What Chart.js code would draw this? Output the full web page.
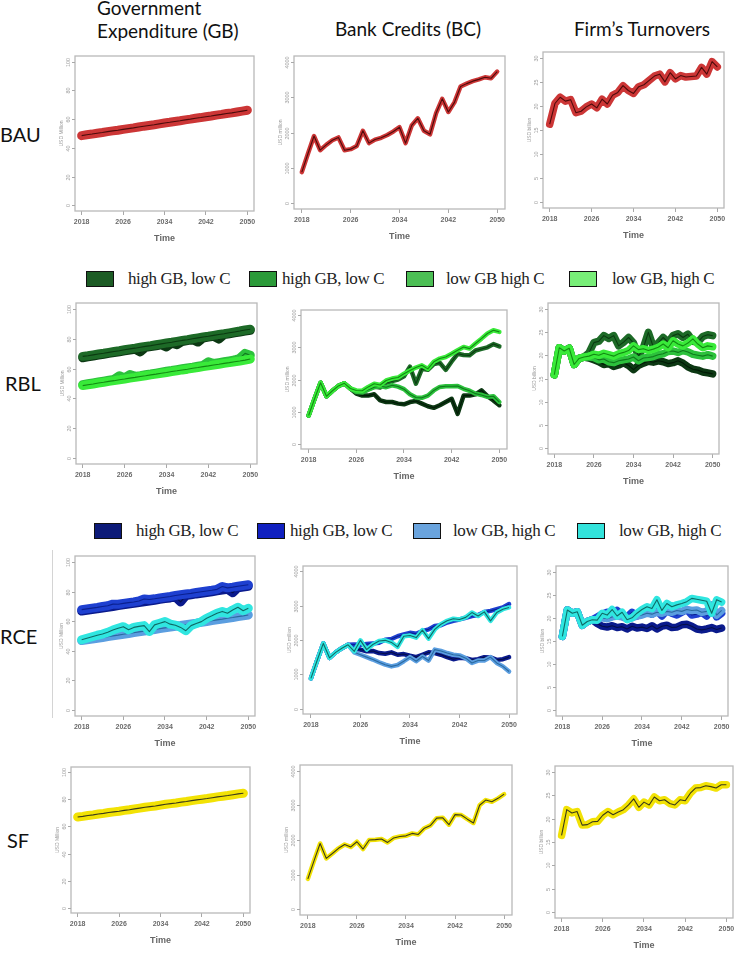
<!DOCTYPE html>
<html>
<head>
<meta charset="utf-8">
<script src="https://cdn.jsdelivr.net/npm/chart.js@4.4.1/dist/chart.umd.min.js"></script>
<style>
  body { margin: 0; background: #fff; width: 737px; height: 958px; position: relative; overflow: hidden; font-family: Lato, sans-serif; }
  .panel { position: absolute; }
  .txt { position: absolute; white-space: nowrap; color: #111; line-height: 1; }
  .colTitle { font-size: 19px; }
  .rowLabel { font-size: 20px; }
  .lgBox { position: absolute; width: 26px; height: 14px; border: 1.5px solid #111; }
  .lgTxt { position: absolute; font-family: "Liberation Serif", serif; font-size: 17px; line-height: 1; white-space: nowrap; color: #222; letter-spacing: -0.4px; }
</style>
</head>
<body>
<script>
// ---- data ----
const years = [2018, 2019, 2020, 2021, 2022, 2023, 2024, 2025, 2026, 2027, 2028, 2029, 2030, 2031, 2032, 2033, 2034, 2035, 2036, 2037, 2038, 2039, 2040, 2041, 2042, 2043, 2044, 2045, 2046, 2047, 2048, 2049, 2050];
const xTicks = [2018, 2026, 2034, 2042, 2050];
const gbTicks = [0, 20, 40, 60, 80, 100];
const bcTicks = [0, 1000, 2000, 3000, 4000];
const ftTicks = [0, 5, 10, 15, 20, 25, 30];

// BAU
const bauGb = [48.5, 49.1, 49.6, 50.2, 50.7, 51.3, 51.8, 52.3, 52.9, 53.4, 53.9, 54.5, 55.1, 55.6, 56.1, 56.7, 57.3, 57.8, 58.4, 58.9, 59.5, 60.0, 60.6, 61.1, 61.7, 62.2, 62.8, 63.3, 63.9, 64.4, 65.0, 65.6, 66.2];
const bauBc = [880, 1400, 1900, 1500, 1650, 1780, 1860, 1500, 1530, 1620, 2050, 1700, 1800, 1850, 1930, 2030, 2150, 1700, 2200, 2400, 2050, 1950, 2550, 2950, 2580, 2850, 3300, 3380, 3450, 3500, 3560, 3530, 3720];
const bauFt = [16.2, 20.5, 21.8, 21.0, 21.3, 18.6, 18.9, 19.8, 20.4, 19.6, 21.4, 20.4, 22.2, 22.8, 24.2, 23.2, 22.6, 24.0, 24.4, 25.3, 26.2, 26.6, 25.0, 26.9, 25.6, 26.3, 26.0, 26.1, 26.2, 28.0, 26.6, 29.2, 28.1];

// RBL
const rblGb1 = [67.3, 67.9, 68.4, 69.0, 69.6, 70.2, 70.7, 71.3, 71.9, 72.5, 73.0, 71.2, 74.2, 74.8, 75.3, 75.9, 74.5, 77.1, 76.0, 78.2, 78.8, 79.4, 77.8, 80.5, 81.1, 81.7, 79.8, 82.8, 83.4, 84.0, 84.5, 85.1, 85.7];
const rblGb2 = [68.2, 68.6, 69.2, 69.8, 70.3, 70.9, 71.5, 72.0, 72.6, 73.2, 73.7, 74.3, 74.9, 75.4, 76.0, 76.6, 77.2, 77.7, 78.3, 78.9, 79.4, 80.0, 80.6, 81.2, 81.7, 82.3, 82.9, 83.4, 84.0, 84.6, 85.2, 85.9, 86.4];
const rblGb3 = [49.2, 49.8, 50.4, 51.0, 51.6, 52.2, 52.8, 55.2, 53.8, 56.0, 54.8, 55.3, 55.9, 56.4, 57.0, 57.6, 58.2, 58.7, 59.3, 59.9, 60.5, 61.0, 61.6, 62.2, 64.5, 63.4, 64.0, 64.6, 65.2, 65.8, 67.0, 70.2, 69.0];
const rblGb4 = [48.6, 49.2, 49.7, 50.3, 50.8, 51.4, 51.9, 52.5, 53.0, 53.6, 54.1, 54.7, 55.2, 55.8, 56.3, 56.9, 57.4, 58.0, 58.5, 59.1, 59.6, 60.2, 60.7, 61.3, 61.8, 62.4, 62.9, 63.5, 64.0, 64.6, 65.1, 65.7, 66.4];

const rblBcStart = [880, 1400, 1900, 1480, 1650, 1800, 1880, 1720];
const rblBc1 = rblBcStart.concat([1560, 1500, 1500, 1540, 1350, 1300, 1300, 1250, 1230, 1300, 1330, 1250, 1170, 1120, 1200, 1300, 1400, 930, 1500, 1500, 1540, 1660, 1480, 1350, 1200]);
const rblBc2 = rblBcStart.concat([1600, 1600, 1700, 1780, 1750, 1900, 1950, 2000, 2100, 2400, 1870, 2330, 2300, 2480, 2520, 2300, 2560, 2800, 2760, 2750, 2900, 2950, 3000, 3100, 3030]);
const rblBc3 = rblBcStart.concat([1620, 1600, 1680, 1760, 1800, 1760, 1820, 1780, 1700, 1540, 1440, 1430, 1500, 1660, 1770, 1790, 1790, 1800, 1710, 1650, 1560, 1520, 1460, 1480, 1300]);
const rblBc4 = rblBcStart.concat([1660, 1650, 1770, 1870, 1830, 1970, 2030, 2060, 2180, 2280, 2370, 2440, 2330, 2550, 2650, 2700, 2800, 2910, 3010, 2960, 3120, 3270, 3430, 3530, 3480]);

const rblFtStart = [15.8, 21.6, 20.9, 21.5, 18.0, 19.3, 19.6];
const rblFt1 = rblFtStart.concat([19.4, 19.0, 18.6, 18.0, 18.2, 17.6, 17.9, 18.4, 17.8, 16.9, 17.8, 18.3, 18.7, 18.5, 18.8, 18.6, 18.2, 18.4, 18.8, 18.3, 17.5, 17.0, 16.8, 16.4, 16.2, 16.0]);
const rblFt2 = rblFtStart.concat([20.5, 22.7, 23.0, 24.2, 23.6, 24.2, 22.0, 22.8, 23.8, 22.6, 19.8, 21.6, 24.9, 21.8, 22.6, 23.8, 22.8, 24.2, 24.6, 23.8, 24.5, 23.0, 22.8, 24.0, 24.4, 24.2]);
const rblFt3 = rblFtStart.concat([19.6, 19.5, 19.0, 19.2, 18.6, 18.4, 18.8, 19.0, 19.2, 19.6, 18.8, 19.4, 19.5, 19.7, 20.1, 20.3, 20.8, 20.9, 20.6, 21.0, 20.7, 20.2, 20.0, 19.8, 20.1, 19.8]);
const rblFt4 = rblFtStart.concat([19.8, 20.2, 20.0, 20.4, 20.1, 19.8, 20.3, 20.6, 21.0, 22.0, 21.2, 21.4, 21.0, 21.3, 21.7, 22.4, 21.6, 23.1, 22.4, 22.0, 22.6, 23.5, 22.4, 21.6, 22.0, 21.8]);

// RCE
const rceGb1 = [66.8, 67.3, 67.8, 68.3, 68.9, 69.4, 69.9, 70.5, 71.0, 71.5, 72.0, 72.6, 73.1, 73.6, 74.1, 74.7, 75.2, 75.7, 76.3, 73.0, 77.3, 77.8, 78.4, 78.9, 79.4, 79.9, 80.5, 81.0, 81.5, 79.2, 82.6, 83.1, 83.6];
const rceGb2 = [67.8, 68.3, 68.8, 69.3, 69.9, 70.4, 71.5, 71.4, 72.0, 72.5, 73.0, 73.6, 75.0, 74.6, 75.1, 75.7, 76.2, 76.7, 77.3, 77.8, 78.3, 78.8, 79.4, 79.9, 80.4, 80.9, 81.5, 83.4, 82.5, 83.0, 83.6, 84.1, 84.6];
const rceGb3 = [46.9, 47.4, 47.9, 48.5, 49.0, 49.6, 50.1, 50.6, 51.2, 51.7, 52.3, 52.8, 53.3, 53.9, 54.4, 55.0, 55.5, 56.0, 56.6, 57.1, 57.7, 58.2, 58.7, 59.3, 59.8, 60.4, 60.9, 61.4, 62.0, 62.5, 63.1, 63.6, 64.2];
const rceGb4 = [47.5, 48.5, 49.5, 50.5, 51.3, 52.5, 54.0, 55.2, 56.3, 54.2, 55.8, 56.5, 57.0, 53.0, 57.5, 58.6, 59.7, 58.0, 57.3, 55.8, 53.6, 57.0, 58.4, 59.7, 62.0, 63.6, 65.4, 66.6, 65.4, 67.6, 69.4, 67.0, 68.7];

const rceBcStart = [880, 1400, 1900, 1480, 1640, 1760, 1860];
const rceBc1 = rceBcStart.concat([1740, 1720, 1670, 1680, 1620, 1600, 1640, 1570, 1590, 1540, 1500, 1570, 1640, 1620, 1570, 1500, 1440, 1480, 1470, 1420, 1440, 1500, 1490, 1420, 1440, 1500]);
const rceBc2 = rceBcStart.concat([1870, 1860, 1880, 1900, 1920, 2010, 2030, 2110, 2160, 2210, 2180, 2260, 2310, 2410, 2430, 2510, 2560, 2600, 2650, 2700, 2730, 2820, 2850, 2900, 2950, 3050]);
const rceBc3 = rceBcStart.concat([1640, 1570, 1500, 1430, 1350, 1280, 1230, 1270, 1380, 1500, 1380, 1520, 1400, 1720, 1680, 1620, 1570, 1550, 1470, 1330, 1400, 1400, 1500, 1330, 1230, 1080]);
const rceBc4 = rceBcStart.concat([1670, 1990, 1720, 1870, 1970, 1990, 1930, 1800, 2110, 2130, 2070, 2290, 2040, 2310, 2460, 2560, 2620, 2600, 2660, 2800, 2700, 2820, 2560, 2800, 2900, 2950]);

const rceFtStart = [16.0, 21.7, 21.0, 21.3, 18.4, 19.2, 19.6];
const rceFt1 = rceFtStart.concat([18.8, 18.2, 18.0, 18.3, 17.9, 18.1, 17.6, 18.2, 17.8, 18.0, 17.7, 18.3, 17.6, 18.2, 18.4, 17.9, 18.0, 18.5, 18.6, 18.2, 17.6, 17.4, 17.6, 17.9, 17.5, 17.8]);
const rceFt2 = rceFtStart.concat([20.2, 20.8, 21.2, 20.4, 21.6, 20.6, 20.2, 21.2, 20.4, 21.0, 22.2, 20.8, 21.6, 20.4, 21.6, 21.0, 20.6, 21.2, 21.8, 20.6, 20.8, 21.2, 20.4, 22.6, 20.2, 21.0]);
const rceFt3 = rceFtStart.concat([19.6, 20.0, 19.8, 20.2, 20.4, 20.2, 19.8, 20.0, 20.4, 20.6, 21.0, 20.8, 21.2, 21.0, 21.4, 21.2, 21.6, 21.4, 21.8, 21.6, 21.7, 21.2, 21.4, 22.8, 20.6, 21.6]);
const rceFt4 = rceFtStart.concat([19.5, 21.0, 20.6, 21.8, 20.4, 21.2, 19.6, 20.0, 21.0, 21.8, 22.4, 22.0, 23.9, 21.6, 23.1, 22.4, 22.8, 23.1, 23.5, 24.2, 24.0, 23.8, 23.6, 21.0, 23.9, 23.4]);

// SF
const sfGb = [67.0, 67.5, 68.1, 68.6, 69.2, 69.7, 70.3, 70.8, 71.3, 71.9, 72.4, 73.0, 73.6, 74.2, 74.7, 75.2, 75.8, 76.4, 76.9, 77.4, 78.0, 78.5, 79.1, 79.7, 80.2, 80.7, 81.3, 81.9, 82.4, 82.9, 83.5, 84.1, 84.6];
const sfBc = [880, 1400, 1900, 1470, 1610, 1760, 1870, 1800, 1950, 1740, 2000, 2010, 2030, 1930, 2060, 2100, 2120, 2190, 2160, 2340, 2420, 2630, 2640, 2440, 2730, 2720, 2600, 2490, 3000, 3150, 3100, 3200, 3320];
const sfFt = [16.4, 21.9, 21.2, 21.5, 18.6, 18.7, 19.3, 19.4, 20.7, 21.5, 20.8, 21.4, 21.9, 22.9, 24.2, 22.4, 23.5, 22.9, 24.6, 23.8, 24.0, 23.2, 22.9, 24.0, 23.8, 25.4, 26.5, 26.6, 27.0, 26.8, 26.5, 27.2, 27.2];

const rblLegend = ['high GB, low C', 'high GB, low C', 'low GB high C', 'low GB, high C'];
const rceLegend = ['high GB, low C', 'high GB, low C', 'low GB, high C', 'low GB, high C'];

// ---- styles ----
const palettes = {
  bau: { band: ['#cc3636'], line: ['#4d0b0b'] },
  rbl: { band: ['#0c3813', '#1d6a27', '#2cc13c', '#39ea39'], line: ['#021a06', '#0a3a10', '#0f7a1c', '#128a12'] },
  rce: { band: ['#0a1a8c', '#1e40d0', '#5b9ee0', '#30e6e0'], line: ['#050f4a', '#0a2090', '#2a6aa0', '#0f6a66'] },
  sf: { band: ['#f2e205'], line: ['#3a3a1a'] }
};
const legendColors = {
  rbl: ['#1d5c25', '#2b9a39', '#4cbf55', '#78ee78'],
  rce: ['#0c1a78', '#1020c0', '#6aa4de', '#33e3dc']
};
const kinds = {
  gb: { min: -4, max: 104, ticks: gbTicks, title: 'USD Million', band: 9 },
  bc: { min: -160, max: 4160, ticks: bcTicks, title: 'USD million', band: 4.5 },
  ft: { min: -1.2, max: 31.2, ticks: ftTicks, title: 'USD billion', band: 7.5 }
};

const panels = [
  { box: [75, 56, 179, 155], kind: 'gb', pal: 'bau', series: [bauGb] },
  { box: [294, 56, 211, 153], kind: 'bc', pal: 'bau', series: [bauBc] },
  { box: [543, 52, 181, 156], kind: 'ft', pal: 'bau', series: [bauFt] },
  { box: [76, 303, 181, 161], kind: 'gb', pal: 'rbl', series: [rblGb1, rblGb2, rblGb3, rblGb4] },
  { box: [301, 310, 206, 139], kind: 'bc', pal: 'rbl', series: [rblBc1, rblBc2, rblBc3, rblBc4] },
  { box: [548, 303, 171, 151], kind: 'ft', pal: 'rbl', series: [rblFt1, rblFt2, rblFt3, rblFt4] },
  { box: [75, 556, 180, 160], kind: 'gb', pal: 'rce', series: [rceGb1, rceGb2, rceGb3, rceGb4] },
  { box: [303, 566, 214, 148], kind: 'bc', pal: 'rce', series: [rceBc1, rceBc2, rceBc3, rceBc4] },
  { box: [556, 566, 172, 150], kind: 'ft', pal: 'rce', series: [rceFt1, rceFt2, rceFt3, rceFt4] },
  { box: [71, 767, 179, 146], kind: 'gb', pal: 'sf', series: [sfGb] },
  { box: [300, 765, 212, 150], kind: 'bc', pal: 'sf', series: [sfBc] },
  { box: [555, 766, 178, 152], kind: 'ft', pal: 'sf', series: [sfFt] }
];

const AXIS_W = 16, AXIS_H = 36, PAD_T = 6, PAD_R = 6;

function addText(text, cls, left, top, extra) {
  const d = document.createElement('div');
  d.className = 'txt ' + cls;
  d.textContent = text;
  d.style.left = left + 'px';
  d.style.top = top + 'px';
  if (extra) Object.assign(d.style, extra);
  document.body.appendChild(d);
  return d;
}

function makePanel(p) {
  const k = kinds[p.kind];
  const pal = palettes[p.pal];
  const [bx, by, bw, bh] = p.box;

  const div = document.createElement('div');
  div.className = 'panel';
  div.style.left = (bx - AXIS_W) + 'px';
  div.style.top = (by - PAD_T) + 'px';
  div.style.width = (bw + AXIS_W + PAD_R) + 'px';
  div.style.height = (bh + PAD_T + AXIS_H) + 'px';
  const canvas = document.createElement('canvas');
  div.appendChild(canvas);
  document.body.appendChild(div);

  // paint order: band + centre line per series, later series on top
  const painted = [];
  p.series.forEach((vals, i) => {
    const pts = years.map((yr, j) => ({ x: yr, y: vals[j] }));
    painted.push({ data: pts, borderColor: pal.band[i], borderWidth: k.band, borderJoinStyle: 'round', borderCapStyle: 'round' });
    painted.push({ data: pts, borderColor: pal.line[i], borderWidth: 1.1, borderJoinStyle: 'round' });
  });
  // chart.js paints dataset 0 last, so reverse
  const datasets = painted.reverse().map(d => Object.assign(d, { pointRadius: 0, tension: 0, fill: false }));

  // R-like box, y tick marks and rotated y labels
  const rStyle = {
    id: 'rStyle',
    afterDraw(chart) {
      const { ctx, chartArea: a } = chart;
      const y = chart.scales.y;
      ctx.save();
      ctx.strokeStyle = '#b9b9b9';
      ctx.lineWidth = 1.3;
      ctx.strokeRect(a.left, a.top, a.right - a.left, a.bottom - a.top);
      ctx.strokeStyle = '#a8a8a8';
      ctx.lineWidth = 1;
      ctx.fillStyle = '#9c9c9c';
      ctx.font = '5.5px "Liberation Sans"';
      ctx.textAlign = 'center';
      ctx.textBaseline = 'middle';
      k.ticks.forEach(v => {
        const py = Math.round(y.getPixelForValue(v)) + 0.5;
        ctx.beginPath();
        ctx.moveTo(a.left - 3, py);
        ctx.lineTo(a.left, py);
        ctx.stroke();
        ctx.save();
        ctx.translate(a.left - 7, py);
        ctx.rotate(-Math.PI / 2);
        ctx.fillText(String(v), 0, 0);
        ctx.restore();
      });
      ctx.restore();
    }
  };

  new Chart(canvas.getContext('2d'), {
    type: 'line',
    data: { datasets },
    plugins: [rStyle],
    options: {
      responsive: true,
      maintainAspectRatio: false,
      animation: false,
      events: [],
      layout: { padding: { top: PAD_T, right: PAD_R, left: 0, bottom: 0 } },
      plugins: { legend: { display: false }, tooltip: { enabled: false } },
      scales: {
        x: {
          type: 'linear',
          min: 2016.72,
          max: 2051.28,
          afterBuildTicks: s => { s.ticks = xTicks.map(v => ({ value: v })); },
          afterFit: s => { s.height = AXIS_H; },
          grid: { drawOnChartArea: false, drawTicks: true, tickLength: 4, color: '#a8a8a8' },
          border: { display: false },
          ticks: {
            autoSkip: false, maxRotation: 0, padding: 3, color: '#6a6a6a',
            font: { family: 'Liberation Sans', size: 7, weight: 'bold' },
            callback: v => String(v)
          },
          title: { display: true, text: 'Time', color: '#666', padding: { top: 0, bottom: 3 }, font: { family: 'Liberation Sans', size: 9, weight: 'bold' } }
        },
        y: {
          type: 'linear',
          min: k.min,
          max: k.max,
          afterBuildTicks: s => { s.ticks = k.ticks.map(v => ({ value: v })); },
          afterFit: s => { s.width = AXIS_W; },
          grid: { display: false },
          border: { display: false },
          ticks: { display: false },
          title: { display: true, text: k.title, color: '#9a9a9a', padding: 0, font: { family: 'Liberation Sans', size: 5 } }
        }
      }
    }
  });
}

// headings and row labels
addText('Government', 'colTitle', 97, -2);
addText('Expenditure (GB)', 'colTitle', 97, 21);
addText('Bank Credits (BC)', 'colTitle', 408, 19, { transform: 'translateX(-50%)' });
addText('Firm\u2019s Turnovers', 'colTitle', 642, 19, { transform: 'translateX(-50%)' });
addText('BAU', 'rowLabel', 0, 124);
addText('RBL', 'rowLabel', 5, 373);
addText('RCE', 'rowLabel', 0, 626);
addText('SF', 'rowLabel', 7, 830);

// legends
function makeLegend(labels, colors, top, boxXs, textXs) {
  labels.forEach((t, i) => {
    const b = document.createElement('div');
    b.className = 'lgBox';
    b.style.left = boxXs[i] + 'px';
    b.style.top = top + 'px';
    b.style.background = colors[i];
    document.body.appendChild(b);
    const s = document.createElement('div');
    s.className = 'lgTxt';
    s.textContent = t;
    s.style.left = textXs[i] + 'px';
    s.style.top = (top - 1) + 'px';
    document.body.appendChild(s);
  });
}
makeLegend(rblLegend, legendColors.rbl, 271, [86, 249, 406, 569], [128, 282, 446, 612]);
makeLegend(rceLegend, legendColors.rce, 523, [94, 257, 413, 577], [136, 290, 453, 619]);

// faint frame edge left of the RCE expenditure panel
const edge = document.createElement('div');
Object.assign(edge.style, { position: 'absolute', left: '52px', top: '550px', width: '1px', height: '168px', background: '#d4d4d4' });
document.body.appendChild(edge);

panels.forEach(makePanel);
</script>
</body>
</html>
